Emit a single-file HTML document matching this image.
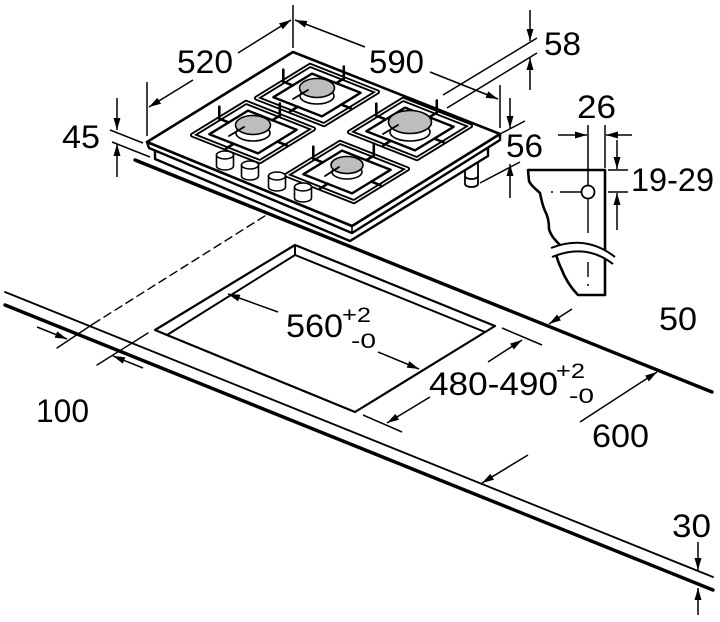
<!DOCTYPE html>
<html><head><meta charset="utf-8"><style>
html,body{margin:0;padding:0;background:#fff;}
svg{display:block;}
text{font-family:"Liberation Sans",Arial,sans-serif;fill:#000;}
</style></head><body>
<svg width="720" height="622" viewBox="0 0 720 622" xmlns="http://www.w3.org/2000/svg">
<defs>
<marker id="a" viewBox="0 0 12 7" refX="12" refY="3.5" markerWidth="12" markerHeight="7" markerUnits="userSpaceOnUse" orient="auto"><path d="M0,0 L12,3.5 L0,7 z" fill="#000"/></marker>
</defs>
<rect width="720" height="622" fill="#fff"/>

<!-- countertop -->
<g stroke="#000" fill="none" stroke-linecap="round">
<line x1="5" y1="292" x2="713" y2="577" stroke-width="1.8"/>
<line x1="5" y1="305" x2="713" y2="590" stroke-width="3.4"/>
<line x1="135" y1="160" x2="712" y2="392" stroke-width="3.4"/>
<!-- cutout -->
<path d="M167,335 L155,330 L295,245 L495,326 L355,412 L167,335" stroke-width="2.2" stroke-linejoin="round"/>
<path d="M167,335 L295,255 L485,332 M295,245 L295,255" stroke-width="2"/>
<!-- dashed -->
<line x1="93" y1="324" x2="268" y2="214" stroke-width="1.4" stroke-dasharray="8,5"/>
<line x1="57" y1="348" x2="93" y2="324" stroke-width="1.4"/>
<line x1="97" y1="365" x2="148" y2="333" stroke-width="1.4"/>
</g>

<!-- dimension lines -->
<g stroke="#000" stroke-width="1.5" fill="none">
<line x1="37" y1="327" x2="67" y2="339" marker-end="url(#a)"/>
<line x1="143" y1="368" x2="113" y2="356" marker-end="url(#a)"/>
<line x1="278" y1="312" x2="228" y2="294" marker-end="url(#a)"/>
<line x1="378" y1="352" x2="419" y2="369" marker-end="url(#a)"/>
<line x1="502" y1="328" x2="542" y2="345"/>
<line x1="363" y1="415" x2="402" y2="432"/>
<line x1="488" y1="362" x2="522" y2="340" marker-end="url(#a)"/>
<line x1="430" y1="397" x2="387" y2="423" marker-end="url(#a)"/>
<line x1="572" y1="309" x2="549" y2="324" marker-end="url(#a)"/>
<line x1="580" y1="422" x2="657" y2="372" marker-end="url(#a)"/>
<line x1="528" y1="455" x2="482" y2="483" marker-end="url(#a)"/>
<line x1="698" y1="542" x2="698" y2="570" marker-end="url(#a)"/>
<line x1="698" y1="615" x2="698" y2="588" marker-end="url(#a)"/>
<!-- 520 / 590 -->
<line x1="147" y1="82" x2="147" y2="136"/>
<line x1="293" y1="5" x2="293" y2="48"/>
<line x1="500" y1="85" x2="500" y2="128"/>
<line x1="193" y1="80" x2="149" y2="107" marker-end="url(#a)"/>
<line x1="238" y1="53" x2="291" y2="20" marker-end="url(#a)"/>
<line x1="365" y1="47" x2="295" y2="20" marker-end="url(#a)"/>
<line x1="430" y1="72" x2="498" y2="99" marker-end="url(#a)"/>
<!-- 45 -->
<line x1="110" y1="130" x2="143" y2="143"/>
<line x1="112" y1="142" x2="150" y2="157"/>
<line x1="117" y1="98" x2="117" y2="130" marker-end="url(#a)"/>
<line x1="117" y1="177" x2="117" y2="144" marker-end="url(#a)"/>
<!-- 58 -->
<line x1="443" y1="95" x2="537" y2="38"/>
<line x1="447" y1="108" x2="537" y2="53"/>
<line x1="530" y1="10" x2="530" y2="41" marker-end="url(#a)"/>
<line x1="530" y1="90" x2="530" y2="58" marker-end="url(#a)"/>
<!-- 56 -->
<line x1="500" y1="134" x2="525" y2="121"/>
<line x1="480" y1="183" x2="520" y2="162"/>
<line x1="510" y1="98" x2="510" y2="128" marker-end="url(#a)"/>
<line x1="510" y1="198" x2="510" y2="164" marker-end="url(#a)"/>
</g>

<!-- hob foot -->
<g stroke="#000" stroke-width="1.8" fill="#fff">
<path d="M465,158 V184 A6.5,3 0 0 0 478,184 V158 Z"/>
<path d="M465,176 A6.5,3 0 0 0 478,176" fill="none"/>
</g>

<!-- hob body -->
<g stroke="#000" stroke-width="2.4" fill="#fff" stroke-linejoin="round">
<polygon points="155,149 350,231 488,146 488,156 350,241 155,159"/>
<polygon points="147,142 352,226 500,134 500,140 352,233 149,148"/>
<polygon points="293,52 500,134 352,226 147,142" stroke-width="2.6"/>
<line x1="352" y1="226" x2="352" y2="233" stroke-width="1.6"/>
</g>

<!-- grates -->
<g fill="none" stroke-linejoin="round">
<g stroke="#000" stroke-width="5">
<polygon points="310.1,65.3 377.5,91.9 323.9,124.7 256.5,98.1"/>
<polygon points="246.1,102.3 313.5,128.9 259.9,161.7 192.5,135.1"/>
<polygon points="403.1,99.3 470.5,125.9 416.9,158.7 349.5,132.1"/>
<polygon points="340.1,142.3 407.5,168.9 353.9,201.7 286.5,175.1"/>
</g>
<g stroke="#fff" stroke-width="1.3">
<polygon points="310.1,65.3 377.5,91.9 323.9,124.7 256.5,98.1"/>
<polygon points="246.1,102.3 313.5,128.9 259.9,161.7 192.5,135.1"/>
<polygon points="403.1,99.3 470.5,125.9 416.9,158.7 349.5,132.1"/>
<polygon points="340.1,142.3 407.5,168.9 353.9,201.7 286.5,175.1"/>
</g>
<g stroke="#000" stroke-width="2.4">
<polygon points="312,73.6 360.6,92.8 322,116.4 273.4,97.2"/>
<polygon points="248,110.6 296.6,129.8 258,153.4 209.4,134.2"/>
<polygon points="405,107.6 453.6,126.8 415,150.4 366.4,131.2"/>
<polygon points="342,150.6 390.6,169.8 352,193.4 303.4,174.2"/>
</g>
<!-- fingers and posts -->
<g stroke="#000" stroke-width="2.6" stroke-linecap="round">
<path d="M283.3,81.7 L292.7,85.4 M343.8,78.6 L336.3,83.2 M350.7,108.3 L341.3,104.6 M290.2,111.4 L297.7,106.8 M283.3,81.7 V69.7 M343.8,78.6 V66.6"/>
<path d="M219.3,118.7 L228.7,122.4 M279.8,115.6 L272.3,120.2 M286.7,145.3 L277.3,141.6 M226.2,148.4 L233.7,143.8 M219.3,118.7 V106.7 M279.8,115.6 V103.6"/>
<path d="M376.3,115.7 L385.7,119.4 M436.8,112.6 L429.3,117.2 M443.7,142.3 L434.3,138.6 M383.2,145.4 L390.7,140.8 M376.3,115.7 V103.7 M436.8,112.6 V100.6"/>
<path d="M313.3,158.7 L322.7,162.4 M373.8,155.6 L366.3,160.2 M380.7,185.3 L371.3,181.6 M320.2,188.4 L327.7,183.8 M313.3,158.7 V146.7 M373.8,155.6 V143.6"/>
</g>
</g>

<!-- burners -->
<g stroke="#000" stroke-width="1.6">
<ellipse cx="317" cy="96" rx="17" ry="8" fill="#fff"/>
<ellipse cx="317" cy="88" rx="17.5" ry="9.5" fill="#bdbdbd"/>
<ellipse cx="253" cy="133" rx="17" ry="8" fill="#fff"/>
<ellipse cx="253" cy="125" rx="17.5" ry="9.5" fill="#bdbdbd"/>
<ellipse cx="410" cy="132" rx="20" ry="9" fill="#fff"/>
<ellipse cx="410" cy="122" rx="21.5" ry="11.5" fill="#bdbdbd"/>
<ellipse cx="347" cy="172" rx="15" ry="7" fill="#fff"/>
<ellipse cx="347" cy="165" rx="16" ry="8.5" fill="#bdbdbd"/>
</g>
<g stroke="#000" stroke-width="1.8" stroke-linecap="round">
<line x1="308" y1="90" x2="293" y2="99"/>
<line x1="244" y1="127" x2="229" y2="136"/>
<line x1="398" y1="125" x2="383" y2="134"/>
<line x1="339" y1="167" x2="325" y2="176"/>
</g>

<!-- knobs -->
<g stroke="#000" stroke-width="1.6" fill="#fff">
<path d="M216.5,155 V166 A8.5,4 0 0 0 233.5,166 V155 Z"/><ellipse cx="225" cy="155" rx="8.5" ry="4"/>
<path d="M241.5,165 V176 A8.5,4 0 0 0 258.5,176 V165 Z"/><ellipse cx="250" cy="165" rx="8.5" ry="4"/>
<path d="M268.5,176 V187 A8.5,4 0 0 0 285.5,187 V176 Z"/><ellipse cx="277" cy="176" rx="8.5" ry="4"/>
<path d="M294.5,187 V198 A8.5,4 0 0 0 311.5,198 V187 Z"/><ellipse cx="303" cy="187" rx="8.5" ry="4"/>
</g>

<!-- bracket -->
<g stroke="#000" fill="none">
<path d="M528,170 L605,170 L605,295 L578,295 C572,289 566,281 561,268 C558,262 557,258 556,254 L560,245 C555,240 551,236 549,229 C549,222 548,216 545,211 C542,204 541,198 540,193 C536,189 531,186 529,181 Z" fill="#fff" stroke-width="2.6" stroke-linejoin="round"/>
<path d="M551,248 Q586,234 615,257 L613,264 Q586,243 552,257 Z" fill="#fff" stroke="none"/>
<path d="M551,248 Q586,234 615,257" stroke-width="2"/>
<path d="M552,257 Q586,243 613,264" stroke-width="2"/>
<line x1="588" y1="125" x2="588" y2="185" stroke-width="1.5"/>
<line x1="605" y1="125" x2="605" y2="168" stroke-width="1.5"/>
<circle cx="588" cy="192" r="6.5" stroke-width="1.8" fill="#fff"/>
<line x1="588" y1="199" x2="588" y2="233" stroke-width="1.4"/>
<line x1="588" y1="262" x2="588" y2="277" stroke-width="1.4"/>
<circle cx="588" cy="285" r="1" fill="#000" stroke="none"/>
<circle cx="552" cy="192" r="1" fill="#000" stroke="none"/>
<line x1="560" y1="192" x2="581" y2="192" stroke-width="1.4"/>
<line x1="608" y1="170" x2="628" y2="170" stroke-width="1.5"/>
<line x1="608" y1="192" x2="628" y2="192" stroke-width="1.5"/>
<g stroke-width="1.5">
<line x1="558" y1="135" x2="587" y2="135" marker-end="url(#a)"/>
<line x1="632" y1="135" x2="606" y2="135" marker-end="url(#a)"/>
<line x1="617" y1="140" x2="617" y2="169" marker-end="url(#a)"/>
<line x1="617" y1="230" x2="617" y2="193" marker-end="url(#a)"/>
</g>
</g>

<!-- labels -->
<g font-size="32">
<text x="177" y="73" textLength="56" lengthAdjust="spacingAndGlyphs">520</text>
<text x="369" y="73" textLength="55" lengthAdjust="spacingAndGlyphs">590</text>
<text x="544" y="55" textLength="37" lengthAdjust="spacingAndGlyphs">58</text>
<text x="62" y="148" textLength="38" lengthAdjust="spacingAndGlyphs">45</text>
<text x="506" y="157" textLength="37" lengthAdjust="spacingAndGlyphs">56</text>
<text x="577" y="118" textLength="39" lengthAdjust="spacingAndGlyphs">26</text>
<text x="631" y="191" textLength="83" lengthAdjust="spacingAndGlyphs">19-29</text>
<text x="659" y="330" textLength="38" lengthAdjust="spacingAndGlyphs">50</text>
<text x="286" y="337" textLength="57" lengthAdjust="spacingAndGlyphs">560</text>
<text x="429" y="395" textLength="129" lengthAdjust="spacingAndGlyphs">480-490</text>
<text x="592" y="447" textLength="57" lengthAdjust="spacingAndGlyphs">600</text>
<text x="672" y="537" textLength="39" lengthAdjust="spacingAndGlyphs">30</text>
<text x="36" y="422" textLength="53" lengthAdjust="spacingAndGlyphs">100</text>
</g>
<g font-size="21">
<text x="342" y="322" textLength="29" lengthAdjust="spacingAndGlyphs">+2</text>
<text x="351" y="348" textLength="25" lengthAdjust="spacingAndGlyphs">-0</text>
<text x="556" y="378" textLength="29" lengthAdjust="spacingAndGlyphs">+2</text>
<text x="569" y="403" textLength="25" lengthAdjust="spacingAndGlyphs">-0</text>
</g>
</svg>
</body></html>
